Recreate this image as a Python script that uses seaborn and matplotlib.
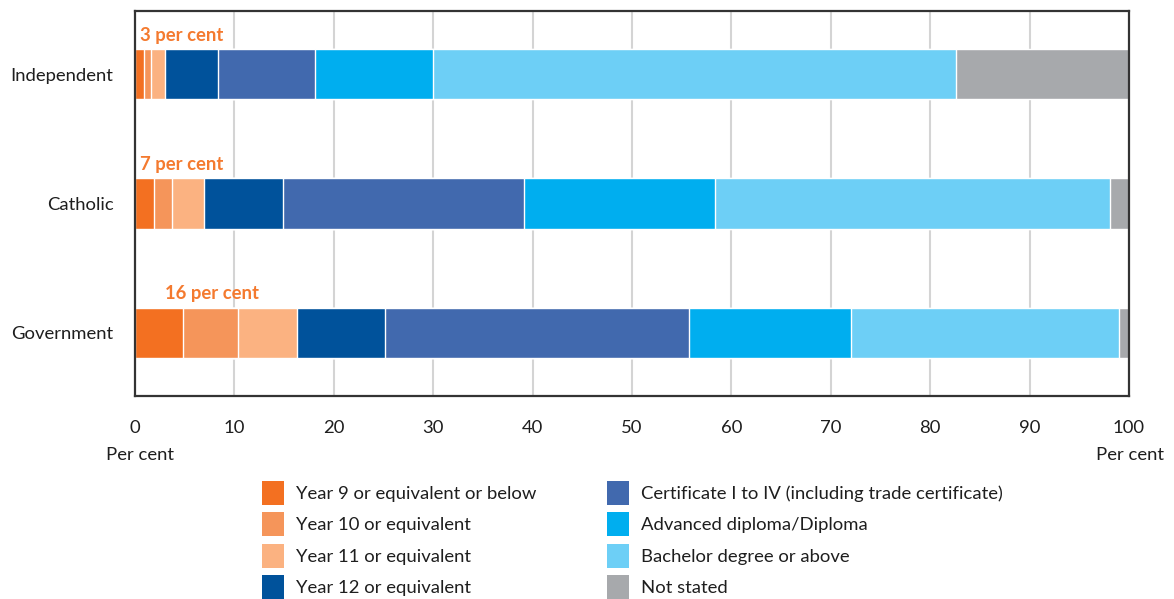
import numpy as np
import pandas as pd
import matplotlib
matplotlib.use("Agg")
import matplotlib.pyplot as plt
import seaborn as sns
from matplotlib.patches import Patch

sectors = ["Independent", "Catholic", "Government"]
series_names = [
    "Year 9 or equivalent or below",
    "Year 10 or equivalent",
    "Year 11 or equivalent",
    "Year 12 or equivalent",
    "Certificate I to IV (including trade certificate)",
    "Advanced diploma/Diploma",
    "Bachelor degree or above",
    "Not stated",
]
year9 = [0.9, 1.9, 4.8]
year10 = [0.7, 1.8, 5.6]
year11 = [1.4, 3.2, 5.9]
year12 = [5.4, 8.0, 8.9]
certificate = [9.7, 24.2, 30.5]
diploma = [11.9, 19.2, 16.3]
bachelor = [52.6, 39.8, 27.0]
not_stated = [17.4, 1.9, 1.0]
annotations = ["3 per cent", "7 per cent", "16 per cent"]
annotation_x = [0.5, 0.5, 3.0]
x_ticks = [0, 10, 20, 30, 40, 50, 60, 70, 80, 90, 100]

colors = ["#F37021", "#F5955A", "#FBB281", "#00529B", "#4169AE",
          "#00AEEF", "#6DCFF6", "#A7A9AC"]

sns.set_theme(style="white")
plt.rcParams["font.family"] = ["Lato", "DejaVu Sans"]

FS = 13.3
TXT = "#1E1E1E"

values = [year9, year10, year11, year12, certificate, diploma, bachelor, not_stated]
cum = np.cumsum(np.array(values), axis=0)

fig = plt.figure(figsize=(11.74, 5.99), dpi=100)
ax = fig.add_axes([135 / 1174, 1 - 396 / 599, (1129 - 135) / 1174, (396 - 11) / 599])

for t in x_ticks[1:-1]:
    ax.axvline(t, color="#D4D4D4", lw=1.5, zorder=0)

for i in range(len(values) - 1, -1, -1):
    df = pd.DataFrame({"sector": sectors, "total": cum[i]})
    sns.barplot(data=df, x="total", y="sector", orient="h", color=colors[i],
                width=0.39, saturation=1, ax=ax, zorder=2, order=sectors)

ax.set_xlim(0, 100)
ax.set_ylim(2.49, -0.49)
ax.set_xticks(x_ticks)
ax.set_xticklabels([str(t) for t in x_ticks], fontsize=FS, color=TXT)
ax.tick_params(axis="x", length=0, pad=17)
ax.tick_params(axis="y", length=0, pad=15.5, labelsize=FS, labelcolor=TXT)
ax.set_xlabel("")
ax.set_ylabel("")
for s in ax.spines.values():
    s.set_visible(True)
    s.set_color("#333333")
    s.set_linewidth(1.6)

for i, (txt, xx) in enumerate(zip(annotations, annotation_x)):
    ax.text(xx, i - 0.30, txt, color="#F47A2F", fontsize=FS, fontweight="bold",
            ha="left", va="center")

fig.text(140 / 1174, 1 - 455 / 599, "Per cent", ha="center", va="center",
         fontsize=FS, color=TXT)
fig.text(1130 / 1174, 1 - 455 / 599, "Per cent", ha="center", va="center",
         fontsize=FS, color=TXT)

handles = [Patch(facecolor=c, edgecolor="none") for c in colors]
leg_kw = dict(frameon=False, fontsize=FS, handlelength=1.2, handleheight=1.6,
              labelspacing=0.42, handletextpad=0.65, borderpad=0, borderaxespad=0,
              labelcolor=TXT)
fig.legend(handles[:4], series_names[:4], loc="upper left",
           bbox_to_anchor=(262 / 1174, 1 - 481 / 599), **leg_kw)
fig.legend(handles[4:], series_names[4:], loc="upper left",
           bbox_to_anchor=(607 / 1174, 1 - 481 / 599), **leg_kw)

fig.savefig("out.png", dpi=100)
